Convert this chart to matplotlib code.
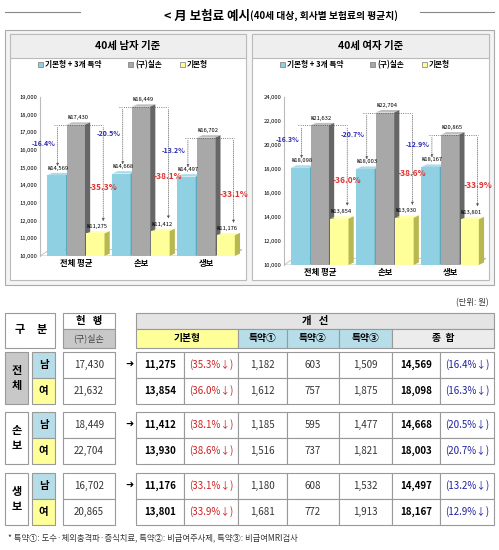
import matplotlib
matplotlib.use("Agg")
import matplotlib.pyplot as plt
from matplotlib.patches import Rectangle, Polygon

plt.rcParams["font.family"] = ["Noto Sans CJK KR", "DejaVu Sans"]

# ---- chart data ----
groups = ["전체 평균", "손보", "생보"]
male_special = [14569, 14668, 14497]
male_old = [17430, 18449, 16702]
male_basic = [11275, 11412, 11176]
male_pct_special = ["-16.4%", "-20.5%", "-13.2%"]
male_pct_basic = ["-35.3%", "-38.1%", "-33.1%"]
female_special = [18098, 18003, 18167]
female_old = [21632, 22704, 20865]
female_basic = [13854, 13930, 13801]
female_pct_special = ["-16.3%", "-20.7%", "-12.9%"]
female_pct_basic = ["-36.0%", "-38.6%", "-33.9%"]

# ---- table data ----
row_groups = ["전\n체", "손\n보", "생\n보"]
sexes = ["남", "여"]
old_vals = ["17,430", "21,632", "18,449", "22,704", "16,702", "20,865"]
basic_vals = ["11,275", "13,854", "11,412", "13,930", "11,176", "13,801"]
basic_pct = ["(35.3%↓)", "(36.0%↓)", "(38.1%↓)", "(38.6%↓)", "(33.1%↓)", "(33.9%↓)"]
sp1 = ["1,182", "1,612", "1,185", "1,516", "1,180", "1,681"]
sp2 = ["603", "757", "595", "737", "608", "772"]
sp3 = ["1,509", "1,875", "1,477", "1,821", "1,532", "1,913"]
total_vals = ["14,569", "18,098", "14,668", "18,003", "14,497", "18,167"]
total_pct = ["(16.4%↓)", "(16.3%↓)", "(20.5%↓)", "(20.7%↓)", "(13.2%↓)", "(12.9%↓)"]

BLUE, GREY, YEL = "#8fd0e2", "#a8a8a8", "#ffff99"
LBLUE = "#b7dde8"

W, H = 499, 550
fig = plt.figure(figsize=(W / 100, H / 100), dpi=100)
bg = fig.add_axes([0, 0, 1, 1])
bg.set_xlim(0, W)
bg.set_ylim(H, 0)
bg.axis("off")


def rect(x0, y0, x1, y1, fc="white", ec="#999999", lw=0.8):
    bg.add_patch(Rectangle((x0, y0), x1 - x0, y1 - y0, fc=fc, ec=ec, lw=lw))


def txt(x, y, s, size=7, color="black", weight="normal", ha="center"):
    bg.text(x, y, s, fontsize=size, color=color, fontweight=weight, ha=ha, va="center")


# title
bg.plot([5, 80], [12, 12], color="#888888", lw=0.8)
bg.plot([420, 494], [12, 12], color="#888888", lw=0.8)
bg.text(250, 16, "< 月 보험료 예시", fontsize=9, fontweight="bold", ha="right", va="center")
bg.text(250, 16, "(40세 대상, 회사별 보험료의 평균치)", fontsize=7, fontweight="bold", ha="left", va="center")

# chart panels
rect(5, 30, 494, 285, fc="#f4f4f4", ec="#aaaaaa")
for x0, x1, t in [(10, 246, "40세 남자 기준"), (252, 489, "40세 여자 기준")]:
    rect(x0, 34, x1, 280, fc="white", ec="#bbbbbb")
    rect(x0, 34, x1, 58, fc="#eeeeee", ec="#bbbbbb")
    txt((x0 + x1) / 2, 46, t, size=7.5, weight="bold")
    lx = x0 + 28
    for c, lab, step in [(BLUE, "기본형 + 3개 특약", 90), (GREY, "(구)실손", 52), (YEL, "기본형", 40)]:
        rect(lx, 62, lx + 5, 67, fc=c, ec="#777777", lw=0.5)
        bg.text(lx + 7, 65, lab, fontsize=5.5, fontweight="bold", va="center")
        lx += step


def chart(rect_pos, spec, old, basic, pct_s, pct_b, ylo, yhi, step):
    ax = fig.add_axes(rect_pos)
    ax.set_xlim(-0.55, 2.55)
    ax.set_ylim(ylo, yhi)
    rng = yhi - ylo
    dx, dy = 0.08, rng * 0.015
    w = 0.28
    for i in range(3):
        for off, v, c in [(-0.3, spec[i], BLUE), (0.0, old[i], GREY), (0.3, basic[i], YEL)]:
            x0 = i + off - w / 2
            ax.add_patch(Rectangle((x0, ylo), w, v - ylo, fc=c, ec="none"))
            ax.add_patch(Polygon([(x0, v), (x0 + dx, v + dy), (x0 + w + dx, v + dy), (x0 + w, v)],
                                 fc=c, ec="none", alpha=0.75))
            ax.add_patch(Polygon([(x0 + w, ylo), (x0 + w + dx, ylo + dy), (x0 + w + dx, v + dy), (x0 + w, v)],
                                 fc="#666666" if c == GREY else ("#5fa8bb" if c == BLUE else "#b8b850"), ec="none"))
            ax.text(x0 + w / 2 + 0.02, v + dy + rng * 0.012, f"₩{v:,}", fontsize=4.2, ha="center", va="bottom")
        # annotation guides
        xl, xr = i - 0.28, i + 0.42
        ax.plot([xl - 0.05, xr], [old[i], old[i]], ls=":", color="#555555", lw=0.6)
        ax.annotate("", xy=(xl, spec[i] + rng * 0.04), xytext=(xl, old[i]),
                    arrowprops=dict(arrowstyle="-|>", ls=":", lw=0.5, color="#555555", mutation_scale=4))
        ax.annotate("", xy=(xr, basic[i] + rng * 0.06), xytext=(xr, old[i]),
                    arrowprops=dict(arrowstyle="-|>", ls=":", lw=0.5, color="#555555", mutation_scale=4))
        ax.text(xl - 0.03, (old[i] + spec[i]) / 2 + rng * 0.04, pct_s[i], fontsize=5, color="#2b2bb0",
                fontweight="bold", ha="right", va="center")
        ax.text(xr, (old[i] + basic[i]) / 2 - rng * 0.05, pct_b[i], fontsize=6, color="#e03030",
                fontweight="bold", ha="center", va="center")
    ax.add_patch(Polygon([(-0.55, ylo), (2.4, ylo), (2.55, ylo + rng * 0.04), (-0.4, ylo + rng * 0.04)],
                         fc="white", ec="#bbbbbb", lw=0.6, zorder=0))
    ax.set_yticks(range(ylo, yhi + 1, step))
    ax.set_yticklabels([f"{t:,}" for t in range(ylo, yhi + 1, step)], fontsize=4.2)
    ax.set_xticks(range(3))
    ax.set_xticklabels(groups, fontsize=6, fontweight="bold")
    ax.tick_params(length=0, pad=2)
    for s in ["top", "right"]:
        ax.spines[s].set_visible(False)
    ax.spines["left"].set_color("#bbbbbb")
    ax.spines["bottom"].set_visible(False)


chart([40 / W, 1 - 256 / H, 202 / W, 159 / H], male_special, male_old, male_basic,
      male_pct_special, male_pct_basic, 10000, 19000, 1000)
chart([284 / W, 1 - 265 / H, 202 / W, 168 / H], female_special, female_old, female_basic,
      female_pct_special, female_pct_basic, 10000, 24000, 2000)

# ---- table ----
txt(472, 303, "(단위: 원)", size=6, color="#333333")
HB = "#c8c8c8"
rect(5, 313, 55, 348, fc="white")
txt(20, 330, "구", size=8, weight="bold")
txt(42, 330, "분", size=8, weight="bold")
rect(63, 313, 115, 329, fc="white")
txt(89, 321, "현   행", size=7.5, weight="bold")
rect(63, 329, 115, 348, fc=HB)
txt(89, 338, "(구)실손", size=6.5, color="#444444")
rect(136, 313, 494, 329, fc="#e4e4e4")
txt(315, 321, "개   선", size=7.5, weight="bold")
for x0, x1, lab, c in [(136, 238, "기본형", YEL), (238, 287, "특약①", LBLUE), (287, 339, "특약②", LBLUE),
                       (339, 392, "특약③", LBLUE), (392, 494, "종  합", "#ececec")]:
    rect(x0, 329, x1, 348, fc=c)
    txt((x0 + x1) / 2, 338, lab, size=7, weight="bold")

group_y = [352, 412, 473]
for g in range(3):
    y0 = group_y[g]
    rect(5, y0, 28, y0 + 52, fc=HB if g == 0 else "white")
    txt(16.5, y0 + 26, row_groups[g], size=8, weight="bold")
    for s in range(2):
        k = g * 2 + s
        ya, yb = y0 + 26 * s, y0 + 26 * (s + 1)
        yc = (ya + yb) / 2
        rect(32, ya, 55, yb, fc=LBLUE if s == 0 else YEL)
        txt(43.5, yc, sexes[s], size=7.5, weight="bold")
        rect(63, ya, 115, yb)
        txt(89, yc, old_vals[k], size=7, color="#333333")
        cells = [(136, 184, basic_vals[k], "black", "bold"), (184, 238, basic_pct[k], "#cc2020", "normal"),
                 (238, 287, sp1[k], "#333333", "normal"), (287, 339, sp2[k], "#333333", "normal"),
                 (339, 392, sp3[k], "#333333", "normal"), (392, 440, total_vals[k], "black", "bold"),
                 (440, 494, total_pct[k], "#2020a0", "normal")]
        for x0, x1, s_, col, fw in cells:
            rect(x0, ya, x1, yb)
            txt((x0 + x1) / 2, yc, s_, size=7, color=col, weight=fw)
    txt(129, y0 + 13, "➜", size=7)

bg.text(8, 538, "* 특약①: 도수·체외충격파·증식치료, 특약②: 비급여주사제, 특약③: 비급여MRI검사",
        fontsize=6, color="#333333", va="center", family=["Noto Sans CJK KR", "DejaVu Sans"])

fig.savefig("out.png", dpi=100)
